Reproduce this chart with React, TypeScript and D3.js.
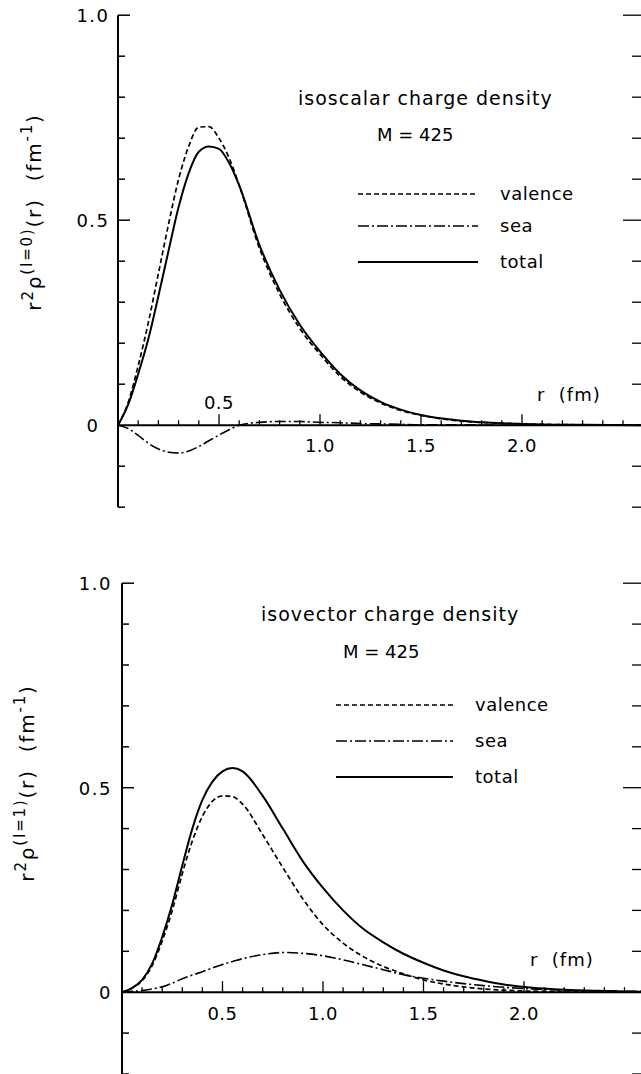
import React from 'react';
import * as d3 from 'd3';

// ---------- data ----------
const rTop = [0, 0.05, 0.1, 0.15, 0.2, 0.25, 0.3, 0.35, 0.4, 0.45, 0.5, 0.55, 0.6, 0.7, 0.8, 0.9, 1.0, 1.1, 1.2, 1.3, 1.4, 1.5, 1.7, 1.9, 2.1, 2.3, 2.6];
const valenceTop = [0, 0.055, 0.145, 0.25, 0.37, 0.49, 0.6, 0.68, 0.727, 0.728, 0.7, 0.652, 0.585, 0.432, 0.32, 0.236, 0.173, 0.119, 0.081, 0.054, 0.036, 0.024, 0.01, 0.005, 0.002, 0.001, 0];
const seaTop = [0, -0.008, -0.025, -0.044, -0.058, -0.066, -0.068, -0.063, -0.052, -0.038, -0.024, -0.011, 0, 0.007, 0.009, 0.009, 0.007, 0.006, 0.004, 0.003, 0.002, 0.001, 0.001, 0, 0, 0, 0];
const totalTop = [0, 0.05, 0.125, 0.21, 0.315, 0.425, 0.532, 0.615, 0.667, 0.68, 0.674, 0.64, 0.585, 0.44, 0.33, 0.245, 0.18, 0.125, 0.085, 0.057, 0.038, 0.025, 0.011, 0.005, 0.002, 0.001, 0];

const rBottom = [0, 0.05, 0.1, 0.15, 0.2, 0.25, 0.3, 0.35, 0.4, 0.45, 0.5, 0.55, 0.6, 0.7, 0.8, 0.9, 1.0, 1.1, 1.2, 1.3, 1.4, 1.5, 1.6, 1.7, 1.8, 1.9, 2.0, 2.1, 2.2, 2.3, 2.4, 2.6];
const valenceBottom = [0, 0.01, 0.028, 0.065, 0.125, 0.2, 0.29, 0.37, 0.43, 0.467, 0.48, 0.478, 0.46, 0.385, 0.305, 0.228, 0.165, 0.12, 0.087, 0.063, 0.045, 0.03, 0.02, 0.013, 0.008, 0.005, 0.003, 0.002, 0.001, 0.001, 0, 0];
const seaBottom = [0, 0.002, 0.004, 0.008, 0.013, 0.022, 0.033, 0.042, 0.05, 0.059, 0.068, 0.075, 0.082, 0.092, 0.097, 0.095, 0.089, 0.079, 0.067, 0.055, 0.043, 0.034, 0.027, 0.021, 0.016, 0.012, 0.009, 0.007, 0.005, 0.004, 0.003, 0.002];
const totalBottom = [0, 0.01, 0.03, 0.07, 0.135, 0.215, 0.31, 0.4, 0.47, 0.515, 0.54, 0.548, 0.54, 0.48, 0.4, 0.32, 0.255, 0.2, 0.155, 0.122, 0.094, 0.072, 0.053, 0.039, 0.028, 0.019, 0.013, 0.009, 0.006, 0.004, 0.003, 0.001];

const yTickValues = [-0.2, -0.1, 0, 0.1, 0.2, 0.3, 0.4, 0.5, 0.6, 0.7, 0.8, 0.9, 1.0];
const yTickLabels = [
  { v: 1.0, t: '1.0' },
  { v: 0.5, t: '0.5' },
  { v: 0, t: '0' },
];
const xTickValues = d3.range(1, 26).map((i) => i / 10);
const xTickLabels = [
  { v: 0.5, t: '0.5' },
  { v: 1.0, t: '1.0' },
  { v: 1.5, t: '1.5' },
  { v: 2.0, t: '2.0' },
];
const legendNames = ['valence', 'sea', 'total'];
const titles = ['isoscalar charge density', 'isovector charge density'];
const massLabel = 'M = 425';
const isospin = ['I=0', 'I=1'];

// ---------- layout ----------
const W = 641;
const H = 1074;
const FONT = '"DejaVu Sans", sans-serif';
const DASH = { valence: '5,3', sea: '11,3,2,3', total: null as string | null };

const layouts = [
  {
    x0: 118, xUnit: 202, y0: 425.2, yUnit: 410,
    firstLabelAbove: true,
    yLabelAnchor: 'middle', yLabelX: 93,
    titleX: 298, titleY: 105, mX: 377, mY: 141,
    legX1: 358, legX2: 478, legTextX: 500, legY: [194, 226, 262],
    rfmX: 537, rfmY: 401,
    axisTitleX: 41, axisTitleY: 212,
    xLabelBelowY: 452, xLabelAboveY: 409,
  },
  {
    x0: 122, xUnit: 201, y0: 992.2, yUnit: 409,
    firstLabelAbove: false,
    yLabelAnchor: 'end', yLabelX: 112,
    titleX: 261, titleY: 621, mX: 343, mY: 658,
    legX1: 336, legX2: 453, legTextX: 475, legY: [705, 741, 777],
    rfmX: 530, rfmY: 966,
    axisTitleX: 34, axisTitleY: 783,
    xLabelBelowY: 1020, xLabelAboveY: 1020,
  },
];

const datasets = [
  { r: rTop, series: [valenceTop, seaTop, totalTop] },
  { r: rBottom, series: [valenceBottom, seaBottom, totalBottom] },
];

function Panel({ idx }: { idx: number }) {
  const L = layouts[idx];
  const D = datasets[idx];
  const x = d3.scaleLinear().domain([0, 2.6]).range([L.x0, L.x0 + 2.6 * L.xUnit]);
  const y = d3.scaleLinear().domain([0, 1]).range([L.y0, L.y0 - L.yUnit]);
  const dashes = [DASH.valence, DASH.sea, DASH.total];
  const widths = [1.7, 1.6, 2];

  const makeLine = (vals: number[]) =>
    d3
      .line<number>()
      .x((_, i) => x(D.r[i]))
      .y((d) => y(d))
      .curve(d3.curveMonotoneX)(vals) as string;

  const rightX = W + 2;
  return (
    <g>
      {/* left axis */}
      <line x1={x(0)} x2={x(0)} y1={y(-0.2)} y2={y(1.0)} stroke="#000" strokeWidth={2} />
      {yTickValues.filter((v) => Math.abs(v) > 1e-9).map((v) => {
        const major = Math.abs(v - 0.5) < 1e-9 || Math.abs(v - 1) < 1e-9;
        return (
          <line key={'yl' + v} x1={x(0)} x2={x(0) + (major ? 12 : 7)} y1={y(v)} y2={y(v)} stroke="#000" strokeWidth={1.5} />
        );
      })}
      {/* right axis ticks (axis itself is just off the page) */}
      {yTickValues.filter((v) => Math.abs(v) > 1e-9).map((v) => {
        const major = Math.abs(v - 0.5) < 1e-9 || Math.abs(v - 1) < 1e-9;
        return (
          <line key={'yr' + v} x1={rightX} x2={rightX - (major ? 20 : 11)} y1={y(v)} y2={y(v)} stroke="#000" strokeWidth={1.3} />
        );
      })}
      {/* x axis */}
      <line x1={x(0)} x2={W} y1={y(0)} y2={y(0)} stroke="#000" strokeWidth={2} />
      {xTickValues.map((v) => {
        const major = xTickLabels.some((t) => Math.abs(t.v - v) < 1e-9);
        return (
          <line key={'xt' + v} x1={x(v)} x2={x(v)} y1={y(0)} y2={y(0) - (major ? 11 : 5)} stroke="#000" strokeWidth={1.3} />
        );
      })}
      {/* tick labels */}
      {yTickLabels.map((t) => (
        <text key={'ytl' + t.t} x={L.yLabelX} y={y(t.v) + 7} fontSize={18} letterSpacing={1.5} textAnchor={L.yLabelAnchor as any} fontFamily={FONT}>
          {t.t}
        </text>
      ))}
      {xTickLabels.map((t, i) => (
        <text
          key={'xtl' + t.t}
          x={x(t.v)}
          y={i === 0 && L.firstLabelAbove ? L.xLabelAboveY : L.xLabelBelowY}
          fontSize={18}
          letterSpacing={0.5}
          textAnchor="middle"
          fontFamily={FONT}
        >
          {t.t}
        </text>
      ))}
      <text x={L.rfmX} y={L.rfmY} fontSize={18} letterSpacing={1} fontFamily={FONT} xmlSpace="preserve">
        r  (fm)
      </text>
      {/* axis title */}
      <text
        transform={`translate(${L.axisTitleX},${L.axisTitleY}) rotate(-90)`}
        textAnchor="middle"
        fontSize={20}
        letterSpacing={1.8}
        fontFamily={FONT}
      >
        <tspan>r</tspan>
        <tspan fontSize={15} dy={-8}>2</tspan>
        <tspan dy={8}>ρ</tspan>
        <tspan fontSize={15} dy={-9}>({isospin[idx]})</tspan>
        <tspan dy={9}>(r)</tspan>
        <tspan dx={17}>(fm</tspan>
        <tspan fontSize={15} dy={-9}>-1</tspan>
        <tspan dy={9}>)</tspan>
      </text>
      {/* curves */}
      {D.series.map((vals, i) => (
        <path
          key={'c' + i}
          d={makeLine(vals)}
          fill="none"
          stroke="#000"
          strokeWidth={widths[i]}
          strokeDasharray={dashes[i] ?? undefined}
        />
      ))}
      {/* title and legend */}
      <text x={L.titleX} y={L.titleY} fontSize={19} letterSpacing={1} fontFamily={FONT}>
        {titles[idx]}
      </text>
      <text x={L.mX} y={L.mY} fontSize={18} fontFamily={FONT}>
        {massLabel}
      </text>
      {legendNames.map((name, i) => (
        <g key={'lg' + name}>
          <line
            x1={L.legX1}
            x2={L.legX2}
            y1={L.legY[i]}
            y2={L.legY[i]}
            stroke="#000"
            strokeWidth={widths[i]}
            strokeDasharray={dashes[i] ?? undefined}
          />
          <text x={L.legTextX} y={L.legY[i] + 6} fontSize={18} letterSpacing={0.5} fontFamily={FONT}>
            {name}
          </text>
        </g>
      ))}
    </g>
  );
}

export default function App() {
  return (
    <svg
      width={W}
      height={H}
      viewBox={`0 0 ${W} ${H}`}
      style={{ position: 'absolute', left: 0, top: 0, display: 'block', background: '#fff' }}
    >
      <rect x={0} y={0} width={W} height={H} fill="#fff" />
      <Panel idx={0} />
      <Panel idx={1} />
    </svg>
  );
}
